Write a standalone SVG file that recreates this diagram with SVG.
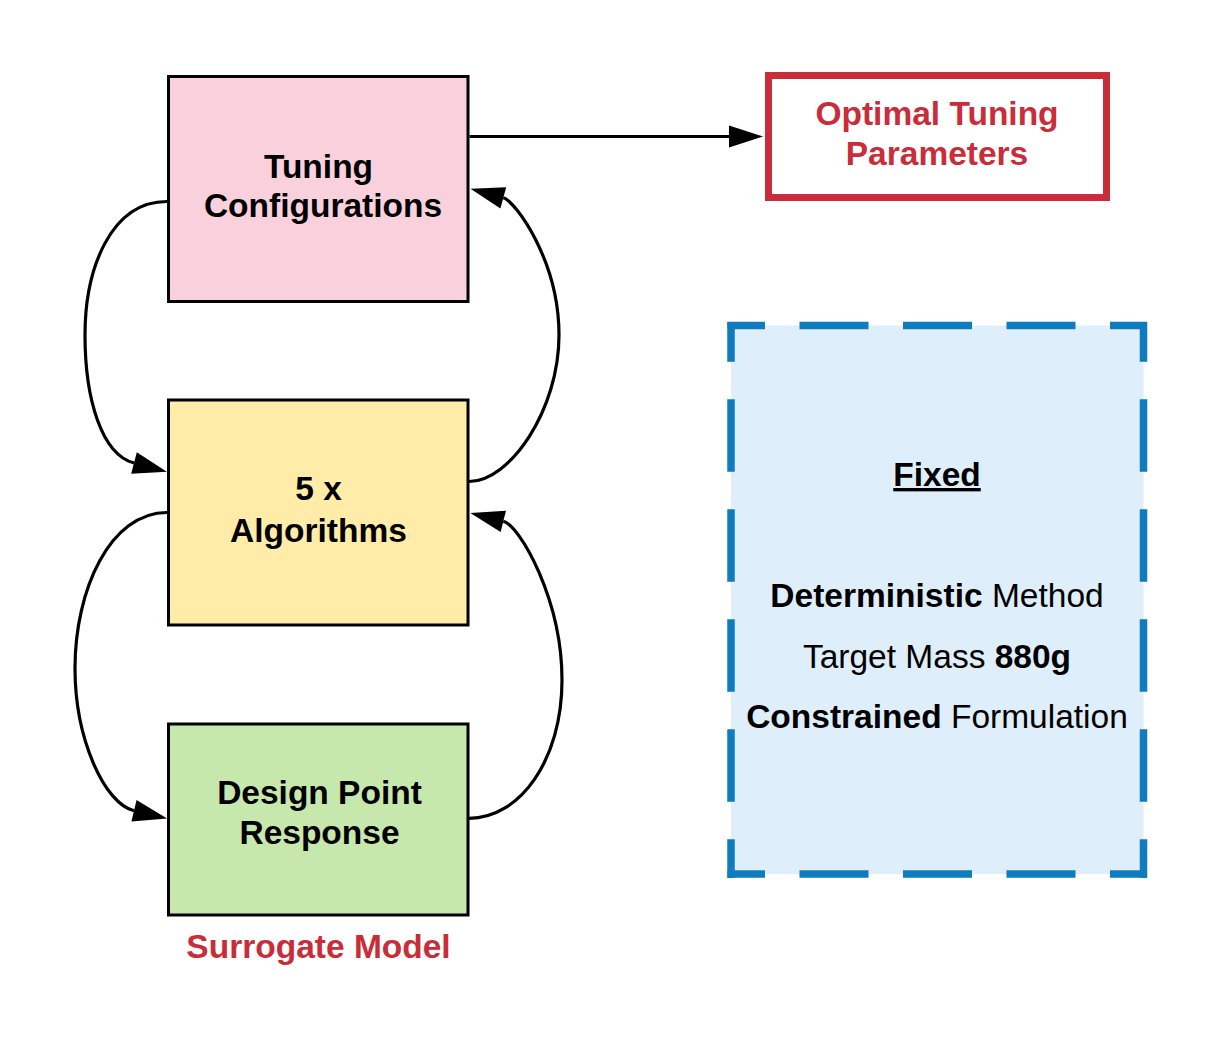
<svg xmlns="http://www.w3.org/2000/svg" width="1219" height="1063" viewBox="0 0 1219 1063">
<style>
  .box { stroke: #000; stroke-width: 3; }
  .lbl { font-family: "Liberation Sans", Arial, sans-serif; font-size: 33.5px; font-weight: bold; fill: #000; text-anchor: middle; }
  .red { fill: #C92D39; }
  .txt { font-family: "Liberation Sans", Arial, sans-serif; font-size: 33.5px; fill: #000; text-anchor: middle; }
  .b { font-weight: bold; }
  .edge { fill: none; stroke: #000; stroke-width: 3.2; marker-end: url(#arr); }
  .dash { stroke: #0E7CBE; stroke-width: 7.5; fill: none; }
</style>
<defs>
  <marker id="arr" markerUnits="userSpaceOnUse" viewBox="0 0 34 22" refX="0" refY="11" markerWidth="34" markerHeight="22" orient="auto" overflow="visible">
    <path d="M0,0 L34,11 L0,22 Z" fill="#000"/>
  </marker>
</defs>
<rect width="1219" height="1063" fill="#fff"/>

<g id="fixed">
  <rect x="731" y="325.5" width="412.5" height="548.5" fill="#DEEEFA"/>
  <line class="dash" x1="727.5" y1="325.5" x2="1147" y2="325.5" stroke-dasharray="69 34.5" stroke-dashoffset="31.5"/>
  <line class="dash" x1="727.5" y1="874" x2="1147" y2="874" stroke-dasharray="69 34.5" stroke-dashoffset="31.5"/>
  <line class="dash" x1="731" y1="322" x2="731" y2="878" stroke-dasharray="72.5 37.5" stroke-dashoffset="32.8"/>
  <line class="dash" x1="1143.5" y1="322" x2="1143.5" y2="878" stroke-dasharray="72.5 37.5" stroke-dashoffset="32.8"/>
  <text class="lbl" x="937" y="486" text-decoration="underline">Fixed</text>
  <text class="txt" x="937" y="607"><tspan class="b">Deterministic</tspan> Method</text>
  <text class="txt" x="937" y="668">Target Mass <tspan class="b">880g</tspan></text>
  <text class="txt" x="937" y="728"><tspan class="b">Constrained</tspan> Formulation</text>
</g>

<g id="tuning">
  <rect class="box" x="168.5" y="76.5" width="299.5" height="225" fill="#F9D1DC"/>
  <text class="lbl" x="318.5" y="178">Tuning</text>
  <text class="lbl" x="323" y="217">Configurations</text>
</g>

<g id="algorithms">
  <rect class="box" x="168.5" y="400" width="299.5" height="225" fill="#FFECA8"/>
  <text class="lbl" x="318.5" y="499.5">5 x</text>
  <text class="lbl" x="318.5" y="541.5">Algorithms</text>
</g>

<g id="design">
  <rect class="box" x="168.5" y="724" width="299.5" height="191" fill="#C7E8AD"/>
  <text class="lbl" x="319.5" y="803.5">Design Point</text>
  <text class="lbl" x="319.5" y="843.5">Response</text>
</g>

<g id="surrogate-label">
  <text class="lbl red" x="318.5" y="958">Surrogate Model</text>
</g>

<g id="optimal">
  <rect x="768.5" y="75.5" width="338" height="122" fill="#fff" stroke="#C92D39" stroke-width="7"/>
  <text class="lbl red" x="937" y="125">Optimal Tuning</text>
  <text class="lbl red" x="937" y="165">Parameters</text>
</g>

<g id="connectors">
  <path class="edge" d="M469.5,136.5 H729"/>
  <path class="edge" d="M167,201.5 C110,201.5 85,270 85,335 C85,400 102,454.5 134,463"/>
  <path class="edge" d="M469,481.5 C510,481.5 559,410 559,335 C559,260 515,201 503.3,197.8"/>
  <path class="edge" d="M167,512.5 C110,512.5 75,590 75,668 C75,740 105,803.8 134,810.7"/>
  <path class="edge" d="M469,818.3 C520,818.3 562,760 562,680 C562,600 520,525.5 503.3,521.3"/>
</g>
</svg>
